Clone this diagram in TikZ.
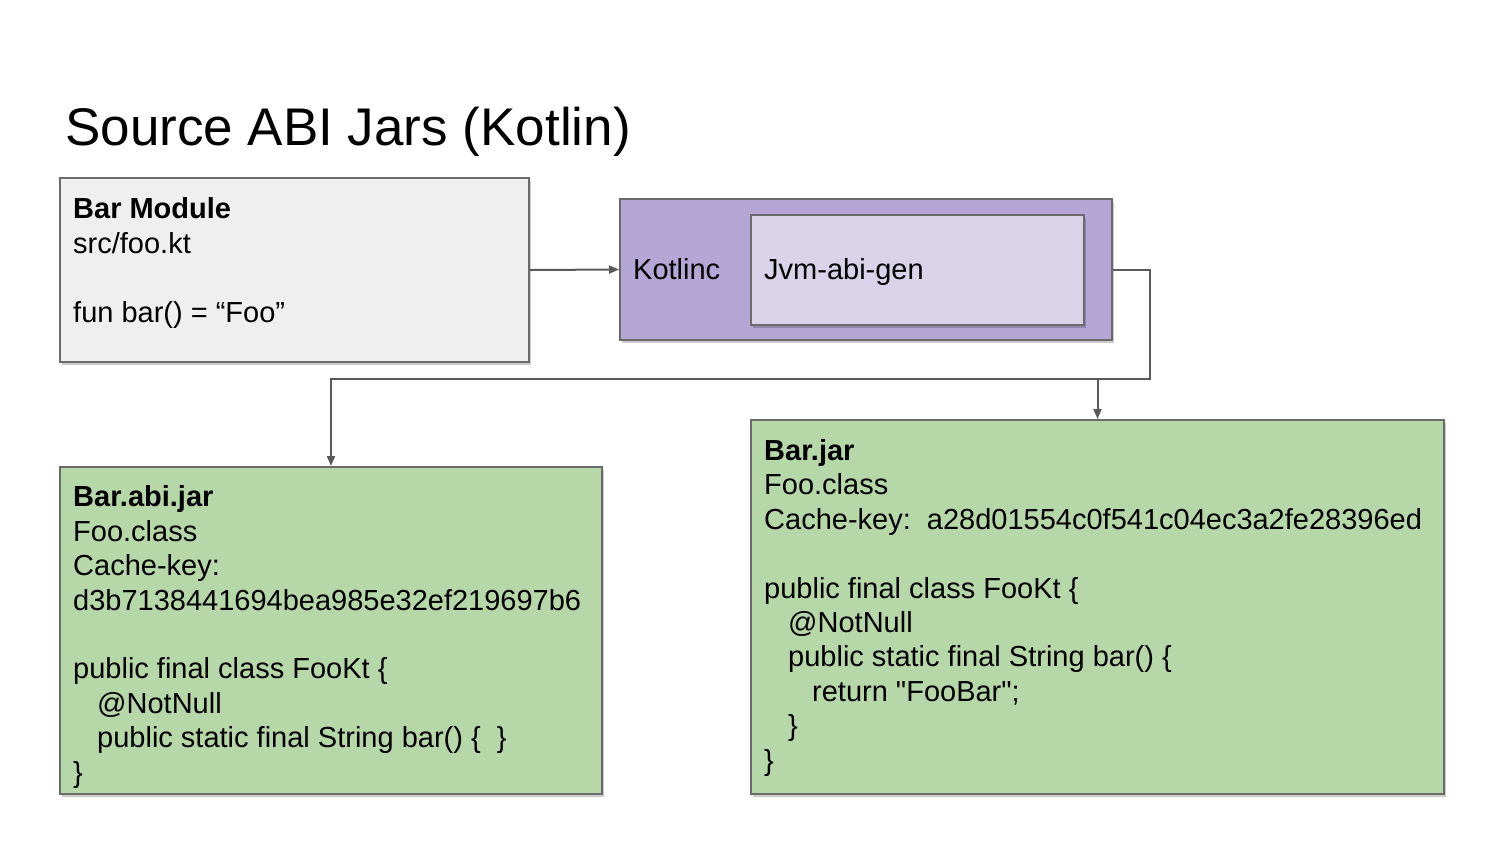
\documentclass[tikz,border=0pt]{standalone}
\usepackage{fontspec}
\setmainfont{Liberation Sans}
\usetikzlibrary{arrows.meta,shadows}

\definecolor{modgray}{HTML}{EFEFEF}
\definecolor{kotpurple}{HTML}{B4A7D6}
\definecolor{genpurple}{HTML}{D9D2E9}
\definecolor{jargreen}{HTML}{B6D7A8}
\definecolor{edgegray}{HTML}{6B6B6B}
\definecolor{wiregray}{HTML}{595959}

\tikzset{
  box/.style={draw=edgegray, line width=2pt, anchor=north west, inner sep=0pt,
    drop shadow={shadow xshift=2pt, shadow yshift=-3pt, fill=black, opacity=0.2}},
  % anchored on the baseline of the last line
  boxtext/.style={anchor=base west, align=left, inner sep=0pt,
    font=\fontsize{29}{34.4}\selectfont},
  wire/.style={draw=wiregray, line width=2pt, -{Triangle[length=10pt,width=8pt]}}
}

\begin{document}
\begin{tikzpicture}[x=1pt,y=1pt,yscale=-1,xscale=1]
\useasboundingbox (0,0) rectangle (1500,844);

% heading
\node [anchor=base west, inner sep=0pt, font=\fontsize{53}{60}\selectfont] (title) at (65,145) {Source ABI Jars (Kotlin)};

% source module
\node [box, fill=modgray, minimum width=469pt, minimum height=184pt] (barmod) at (59,177) {};
\node [boxtext] (barmodtxt) at (73,322) {\textbf{Bar Module}\\src/foo.kt\\[34.4pt]fun bar() = “Foo”};

% compiler and plugin
\node [box, fill=kotpurple, minimum width=492pt, minimum height=141pt] (kotlinc) at (619,198) {};
\node [box, fill=genpurple, minimum width=333pt, minimum height=110pt] (abigen) at (750,214) {};
\node [boxtext] (kotlinctxt) at (633,279) {Kotlinc};
\node [boxtext] (abigentxt) at (764,279) {Jvm-abi-gen};

% outputs
\node [box, fill=jargreen, minimum width=542pt, minimum height=327pt] (abijar) at (59,466) {};
\node [boxtext] (abijartxt) at (73,782) {\textbf{Bar.abi.jar}\\Foo.class\\Cache-key:\\d3b7138441694bea985e32ef219697b6\\[34.4pt]public final class FooKt \{\\\hspace*{24pt}@NotNull\\\hspace*{24pt}public static final String bar() \{\ \ \}\\\}};

\node [box, fill=jargreen, minimum width=693pt, minimum height=374pt] (barjar) at (750,419) {};
\node [boxtext] (barjartxt) at (764,770) {\textbf{Bar.jar}\\Foo.class\\Cache-key:\ \ a28d01554c0f541c04ec3a2fe28396ed\\[34.4pt]public final class FooKt \{\\\hspace*{24pt}@NotNull\\\hspace*{24pt}public static final String bar() \{\\\hspace*{48pt}return \textquotedbl FooBar\textquotedbl;\\\hspace*{24pt}\}\\\}};

% connectors
\coordinate (split) at (1150,379);
\draw [wire] (barmod.east) -- (kotlinc.west);
\draw [wire] (kotlinc.east) -| (split) -| (barjar.north);
\draw [wire] (kotlinc.east) -| (split) -| (abijar.north);

\end{tikzpicture}
\end{document}
